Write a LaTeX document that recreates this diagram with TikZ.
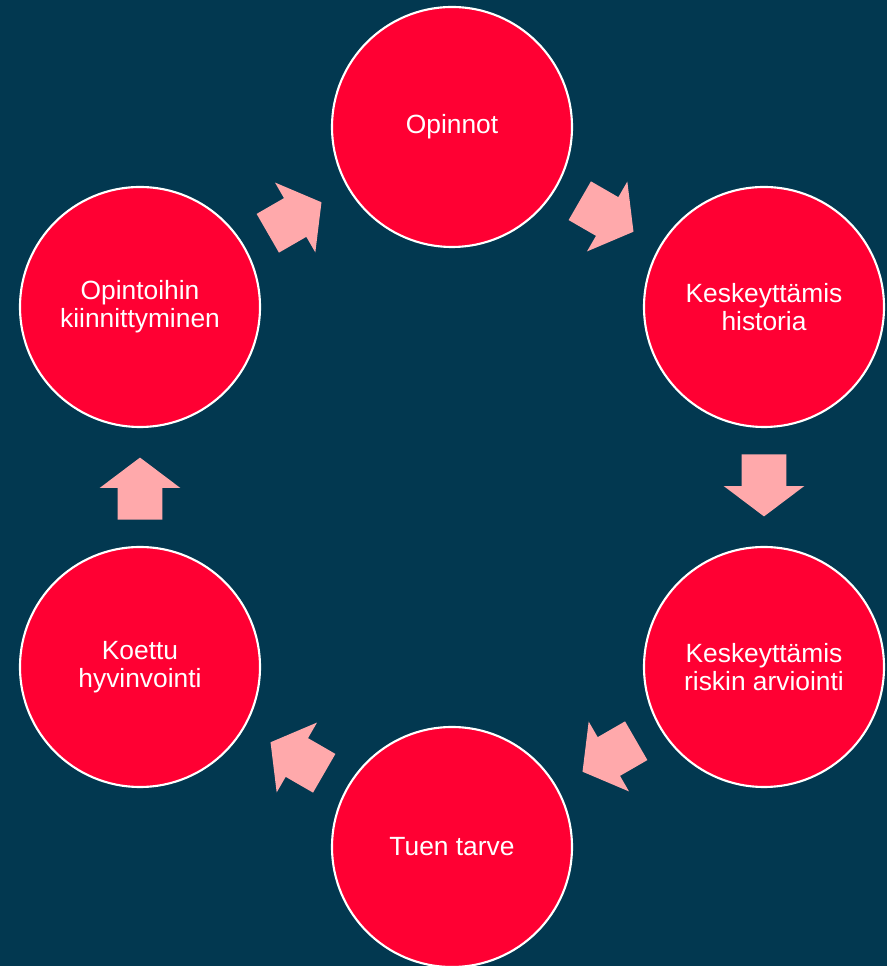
\documentclass[tikz,border=0pt]{standalone}
\usepackage{fontspec}
\setmainfont{Liberation Sans}
\usetikzlibrary{shapes.arrows,
                calc}
\definecolor{taustasin}{HTML}{023850}
\definecolor{punainen}{HTML}{FF0033}
\definecolor{vaaleanpun}{HTML}{FFA9AB}

\begin{document}
\begin{tikzpicture}[scale=1,
    ympyra/.style={circle, fill=punainen, draw=white, line width=1.2pt,
                   minimum size=4.8cm, inner sep=0pt, text=white, align=center,
                   font=\fontsize{15}{16}\selectfont},
    nuoli/.style={single arrow, fill=vaaleanpun, draw=none, inner xsep=0pt,
                  inner ysep=0.44cm, single arrow head extend=0.36cm,
                  single arrow tip angle=106, minimum height=1.24cm}]
            \fill [taustasin] (0,0) rectangle (17.74,19.32);
            \useasboundingbox (0,0) rectangle (17.74,19.32);
            \node [ympyra] (opinnot) at (9.04,16.78) {Opinnot};
            \node [ympyra] (historia) at (15.28,13.18) {Keskeyttämis\\historia};
            \node [ympyra] (riski) at (15.28,5.98) {Keskeyttämis\\riskin arviointi};
            \node [ympyra] (tuki) at (9.04,2.38) {Tuen tarve};
            \node [ympyra] (hyvinvointi) at (2.80,5.98) {Koettu\\hyvinvointi};
            \node [ympyra] (kiinnitys) at (2.80,13.18) {Opintoihin\\kiinnittyminen};
            \node [nuoli, rotate=-30] (n1) at ($(opinnot)!0.5!(historia)!0.2cm!(opinnot)$) {};
            \node [nuoli, rotate=-90] (n2) at ($(historia)!0.5!(riski)!0.2cm!(historia)$) {};
            \node [nuoli, rotate=-150] (n3) at ($(riski)!0.5!(tuki)!0.2cm!(riski)$) {};
            \node [nuoli, rotate=150] (n4) at ($(tuki)!0.5!(hyvinvointi)!0.2cm!(tuki)$) {};
            \node [nuoli, rotate=90] (n5) at ($(hyvinvointi)!0.5!(kiinnitys)!0.2cm!(hyvinvointi)$) {};
            \node [nuoli, rotate=30] (n6) at ($(kiinnitys)!0.5!(opinnot)!0.2cm!(kiinnitys)$) {};
        \end{tikzpicture}
\end{document}
